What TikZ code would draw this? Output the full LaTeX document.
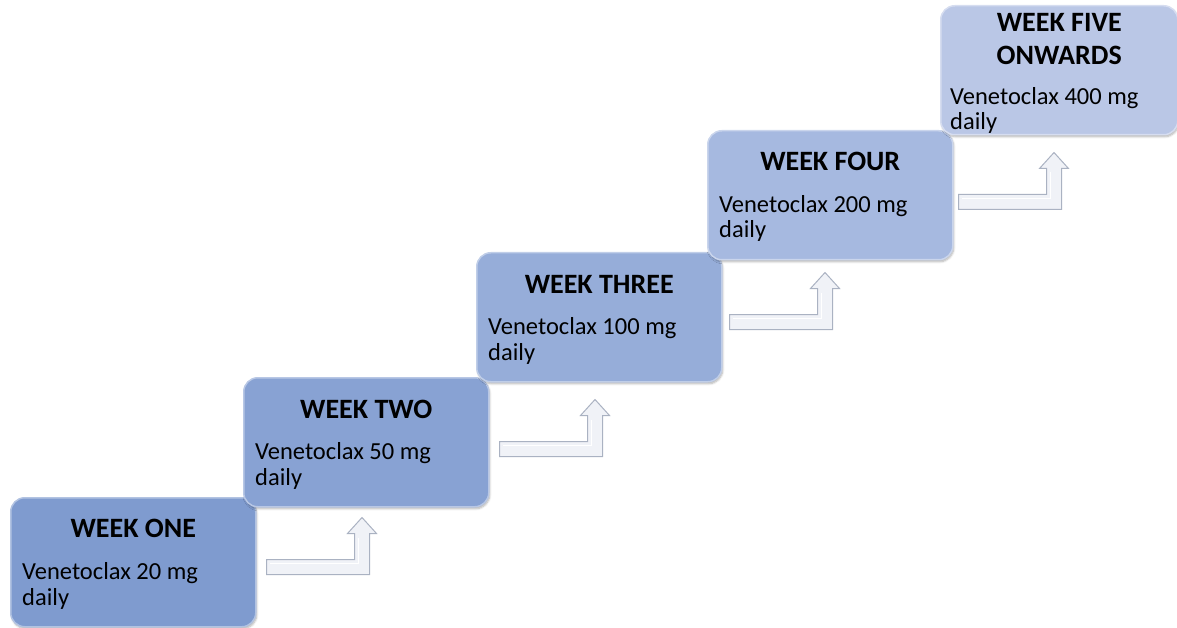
\documentclass[tikz,border=0pt]{standalone}
\usepackage{fontspec}
\setmainfont{Carlito}
\usetikzlibrary{calc,shadows.blur}
\definecolor{c1}{RGB}{127,155,207}
\definecolor{c2}{RGB}{136,162,211}
\definecolor{c3}{RGB}{150,173,217}
\definecolor{c4}{RGB}{166,185,224}
\definecolor{c5}{RGB}{186,199,230}
\definecolor{arredge}{RGB}{170,178,194}
\definecolor{arrfill}{RGB}{240,242,247}
\tikzset{
  stepbox/.style={rounded corners=14pt, minimum width=245pt, minimum height=129pt,
    inner sep=0pt, draw=#1!60!white, line width=1.5pt, fill=#1,
    blur shadow={shadow xshift=1pt, shadow yshift=-2pt, shadow blur steps=6, shadow opacity=30}},
  titletext/.style={font=\fontsize{28}{33}\selectfont\bfseries, anchor=base, align=center, inner sep=0pt},
  bodytext/.style={font=\fontsize{24.5}{25.5}\selectfont, anchor=base west, align=left, inner sep=0pt},
  bentarrow/.pic={
    \path[fill=arrfill, draw=arredge, line width=1pt, line join=miter]
      (0,0) -- (88,0) -- (88,-26) -- (81,-26) -- (95.5,-42) -- (110,-26) -- (103,-26)
      -- (103,15) -- (0,15) -- cycle;
    \draw[white, line width=1.2pt] (3,4) -- (92,4) -- (92,-22);
  }
}
\begin{document}
\begin{tikzpicture}[x=1pt,y=-1pt]
\useasboundingbox (0,0) rectangle (1177,628);
% boxes
\node[stepbox=c1, anchor=north west] (b1) at (10,497) {};
\node[stepbox=c2, anchor=north west] (b2) at (243,377) {};
\node[stepbox=c3, anchor=north west] (b3) at (476,252) {};
\node[stepbox=c4, anchor=north west] (b4) at (707,130) {};
\node[stepbox=c5, anchor=north west, minimum width=237pt] (b5) at (940,5) {};
% texts (base = baseline of last line)
\node[titletext] (t1) at ($(b1.north)+(0,40)$) {WEEK ONE};
\node[bodytext] (d1) at ($(b1.north west)+(12,108)$) {Venetoclax 20 mg\\daily};
\node[titletext] (t2) at ($(b2.north)+(0,41)$) {WEEK TWO};
\node[bodytext] (d2) at ($(b2.north west)+(12,108)$) {Venetoclax 50 mg\\daily};
\node[titletext] (t3) at ($(b3.north)+(0,41)$) {WEEK THREE};
\node[bodytext] (d3) at ($(b3.north west)+(12,108)$) {Venetoclax 100 mg\\daily};
\node[titletext] (t4) at ($(b4.north)+(0,41)$) {WEEK FOUR};
\node[bodytext] (d4) at ($(b4.north west)+(12,108)$) {Venetoclax 200 mg\\daily};
\node[titletext] (t5) at ($(b5.north)+(0,60)$) {WEEK FIVE\\ONWARDS};
\node[bodytext] (d5) at ($(b5.north west)+(10,125)$) {Venetoclax 400 mg\\daily};
% bent arrows
\pic at ($(b1.south east)+(10,-68)$) {bentarrow};
\pic at ($(b2.south east)+(10,-66)$) {bentarrow};
\pic at ($(b3.south east)+(7,-68)$) {bentarrow};
\pic at ($(b4.south east)+(5,-66)$) {bentarrow};
\end{tikzpicture}
\end{document}
